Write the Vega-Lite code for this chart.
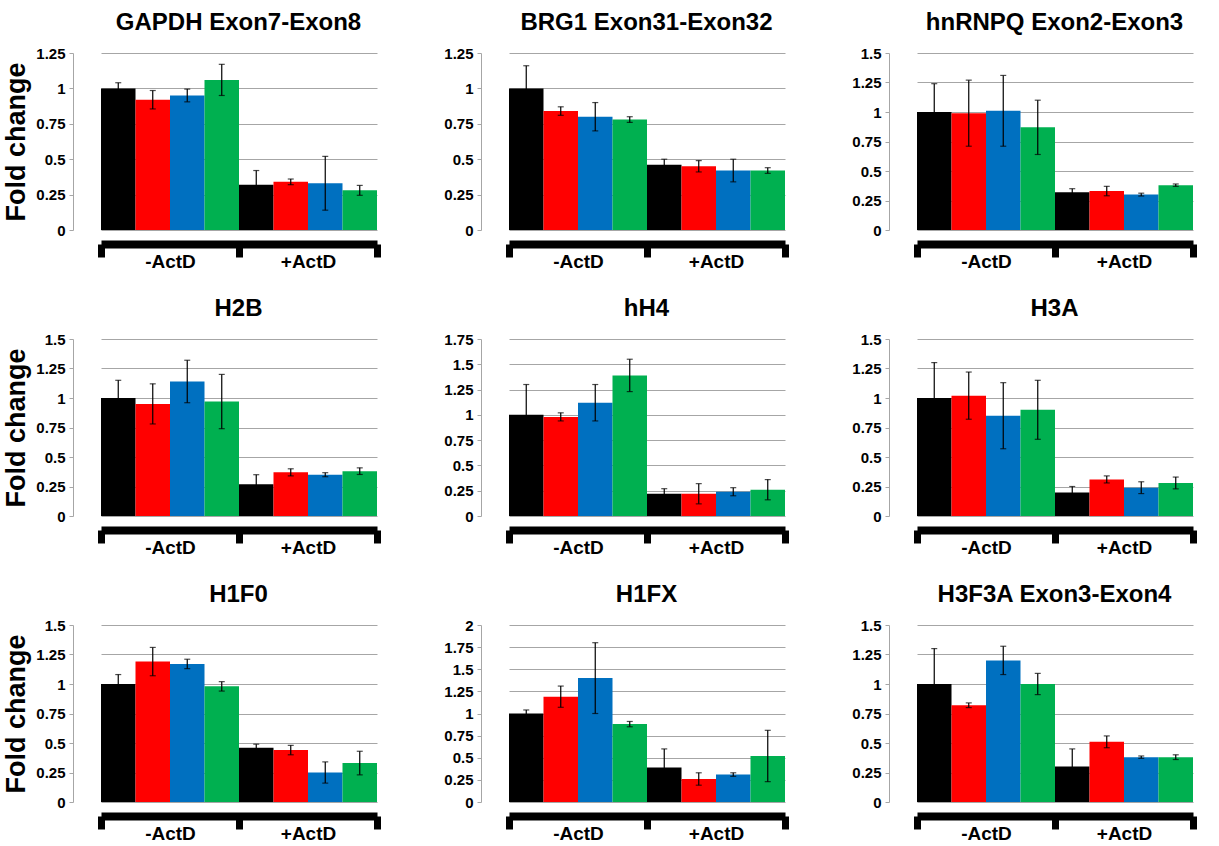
{
  "$schema": "https://vega.github.io/schema/vega-lite/v6.json",
  "padding": {"left": 2, "top": 11, "right": 0, "bottom": 0},
  "columns": 3,
  "spacing": {"row": 26, "column": 39},
  "data": {"values": [
    {"panel": "GAPDH Exon7-Exon8", "group": "-ActD", "series": "S1", "value": 1.00, "lo": 0.96, "hi": 1.04},
    {"panel": "GAPDH Exon7-Exon8", "group": "-ActD", "series": "S2", "value": 0.92, "lo": 0.855, "hi": 0.985},
    {"panel": "GAPDH Exon7-Exon8", "group": "-ActD", "series": "S3", "value": 0.95, "lo": 0.905, "hi": 0.995},
    {"panel": "GAPDH Exon7-Exon8", "group": "-ActD", "series": "S4", "value": 1.06, "lo": 0.95, "hi": 1.17},
    {"panel": "GAPDH Exon7-Exon8", "group": "+ActD", "series": "S1", "value": 0.32, "lo": 0.22, "hi": 0.42},
    {"panel": "GAPDH Exon7-Exon8", "group": "+ActD", "series": "S2", "value": 0.34, "lo": 0.32, "hi": 0.36},
    {"panel": "GAPDH Exon7-Exon8", "group": "+ActD", "series": "S3", "value": 0.33, "lo": 0.14, "hi": 0.52},
    {"panel": "GAPDH Exon7-Exon8", "group": "+ActD", "series": "S4", "value": 0.28, "lo": 0.245, "hi": 0.315},
    {"panel": "BRG1 Exon31-Exon32", "group": "-ActD", "series": "S1", "value": 1.00, "lo": 0.84, "hi": 1.16},
    {"panel": "BRG1 Exon31-Exon32", "group": "-ActD", "series": "S2", "value": 0.84, "lo": 0.81, "hi": 0.87},
    {"panel": "BRG1 Exon31-Exon32", "group": "-ActD", "series": "S3", "value": 0.80, "lo": 0.70, "hi": 0.90},
    {"panel": "BRG1 Exon31-Exon32", "group": "-ActD", "series": "S4", "value": 0.78, "lo": 0.76, "hi": 0.80},
    {"panel": "BRG1 Exon31-Exon32", "group": "+ActD", "series": "S1", "value": 0.46, "lo": 0.42, "hi": 0.50},
    {"panel": "BRG1 Exon31-Exon32", "group": "+ActD", "series": "S2", "value": 0.45, "lo": 0.41, "hi": 0.49},
    {"panel": "BRG1 Exon31-Exon32", "group": "+ActD", "series": "S3", "value": 0.42, "lo": 0.34, "hi": 0.50},
    {"panel": "BRG1 Exon31-Exon32", "group": "+ActD", "series": "S4", "value": 0.42, "lo": 0.40, "hi": 0.44},
    {"panel": "hnRNPQ Exon2-Exon3", "group": "-ActD", "series": "S1", "value": 1.00, "lo": 0.76, "hi": 1.24},
    {"panel": "hnRNPQ Exon2-Exon3", "group": "-ActD", "series": "S2", "value": 0.99, "lo": 0.71, "hi": 1.27},
    {"panel": "hnRNPQ Exon2-Exon3", "group": "-ActD", "series": "S3", "value": 1.01, "lo": 0.71, "hi": 1.31},
    {"panel": "hnRNPQ Exon2-Exon3", "group": "-ActD", "series": "S4", "value": 0.87, "lo": 0.64, "hi": 1.10},
    {"panel": "hnRNPQ Exon2-Exon3", "group": "+ActD", "series": "S1", "value": 0.32, "lo": 0.29, "hi": 0.35},
    {"panel": "hnRNPQ Exon2-Exon3", "group": "+ActD", "series": "S2", "value": 0.33, "lo": 0.29, "hi": 0.37},
    {"panel": "hnRNPQ Exon2-Exon3", "group": "+ActD", "series": "S3", "value": 0.30, "lo": 0.288, "hi": 0.312},
    {"panel": "hnRNPQ Exon2-Exon3", "group": "+ActD", "series": "S4", "value": 0.38, "lo": 0.37, "hi": 0.39},
    {"panel": "H2B", "group": "-ActD", "series": "S1", "value": 1.00, "lo": 0.85, "hi": 1.15},
    {"panel": "H2B", "group": "-ActD", "series": "S2", "value": 0.95, "lo": 0.78, "hi": 1.12},
    {"panel": "H2B", "group": "-ActD", "series": "S3", "value": 1.14, "lo": 0.96, "hi": 1.32},
    {"panel": "H2B", "group": "-ActD", "series": "S4", "value": 0.97, "lo": 0.74, "hi": 1.20},
    {"panel": "H2B", "group": "+ActD", "series": "S1", "value": 0.27, "lo": 0.19, "hi": 0.35},
    {"panel": "H2B", "group": "+ActD", "series": "S2", "value": 0.37, "lo": 0.34, "hi": 0.40},
    {"panel": "H2B", "group": "+ActD", "series": "S3", "value": 0.35, "lo": 0.333, "hi": 0.367},
    {"panel": "H2B", "group": "+ActD", "series": "S4", "value": 0.38, "lo": 0.352, "hi": 0.408},
    {"panel": "hH4", "group": "-ActD", "series": "S1", "value": 1.00, "lo": 0.70, "hi": 1.30},
    {"panel": "hH4", "group": "-ActD", "series": "S2", "value": 0.98, "lo": 0.94, "hi": 1.02},
    {"panel": "hH4", "group": "-ActD", "series": "S3", "value": 1.12, "lo": 0.94, "hi": 1.30},
    {"panel": "hH4", "group": "-ActD", "series": "S4", "value": 1.39, "lo": 1.23, "hi": 1.55},
    {"panel": "hH4", "group": "+ActD", "series": "S1", "value": 0.22, "lo": 0.17, "hi": 0.27},
    {"panel": "hH4", "group": "+ActD", "series": "S2", "value": 0.22, "lo": 0.12, "hi": 0.32},
    {"panel": "hH4", "group": "+ActD", "series": "S3", "value": 0.24, "lo": 0.20, "hi": 0.28},
    {"panel": "hH4", "group": "+ActD", "series": "S4", "value": 0.26, "lo": 0.16, "hi": 0.36},
    {"panel": "H3A", "group": "-ActD", "series": "S1", "value": 1.00, "lo": 0.70, "hi": 1.30},
    {"panel": "H3A", "group": "-ActD", "series": "S2", "value": 1.02, "lo": 0.82, "hi": 1.22},
    {"panel": "H3A", "group": "-ActD", "series": "S3", "value": 0.85, "lo": 0.57, "hi": 1.13},
    {"panel": "H3A", "group": "-ActD", "series": "S4", "value": 0.90, "lo": 0.65, "hi": 1.15},
    {"panel": "H3A", "group": "+ActD", "series": "S1", "value": 0.20, "lo": 0.15, "hi": 0.25},
    {"panel": "H3A", "group": "+ActD", "series": "S2", "value": 0.31, "lo": 0.28, "hi": 0.34},
    {"panel": "H3A", "group": "+ActD", "series": "S3", "value": 0.24, "lo": 0.19, "hi": 0.29},
    {"panel": "H3A", "group": "+ActD", "series": "S4", "value": 0.28, "lo": 0.23, "hi": 0.33},
    {"panel": "H1F0", "group": "-ActD", "series": "S1", "value": 1.00, "lo": 0.92, "hi": 1.08},
    {"panel": "H1F0", "group": "-ActD", "series": "S2", "value": 1.19, "lo": 1.07, "hi": 1.31},
    {"panel": "H1F0", "group": "-ActD", "series": "S3", "value": 1.17, "lo": 1.13, "hi": 1.21},
    {"panel": "H1F0", "group": "-ActD", "series": "S4", "value": 0.98, "lo": 0.94, "hi": 1.02},
    {"panel": "H1F0", "group": "+ActD", "series": "S1", "value": 0.46, "lo": 0.43, "hi": 0.49},
    {"panel": "H1F0", "group": "+ActD", "series": "S2", "value": 0.44, "lo": 0.40, "hi": 0.48},
    {"panel": "H1F0", "group": "+ActD", "series": "S3", "value": 0.25, "lo": 0.16, "hi": 0.34},
    {"panel": "H1F0", "group": "+ActD", "series": "S4", "value": 0.33, "lo": 0.23, "hi": 0.43},
    {"panel": "H1FX", "group": "-ActD", "series": "S1", "value": 1.00, "lo": 0.96, "hi": 1.04},
    {"panel": "H1FX", "group": "-ActD", "series": "S2", "value": 1.19, "lo": 1.07, "hi": 1.31},
    {"panel": "H1FX", "group": "-ActD", "series": "S3", "value": 1.40, "lo": 1.00, "hi": 1.80},
    {"panel": "H1FX", "group": "-ActD", "series": "S4", "value": 0.88, "lo": 0.85, "hi": 0.91},
    {"panel": "H1FX", "group": "+ActD", "series": "S1", "value": 0.39, "lo": 0.18, "hi": 0.60},
    {"panel": "H1FX", "group": "+ActD", "series": "S2", "value": 0.26, "lo": 0.19, "hi": 0.33},
    {"panel": "H1FX", "group": "+ActD", "series": "S3", "value": 0.31, "lo": 0.29, "hi": 0.33},
    {"panel": "H1FX", "group": "+ActD", "series": "S4", "value": 0.52, "lo": 0.23, "hi": 0.81},
    {"panel": "H3F3A Exon3-Exon4", "group": "-ActD", "series": "S1", "value": 1.00, "lo": 0.70, "hi": 1.30},
    {"panel": "H3F3A Exon3-Exon4", "group": "-ActD", "series": "S2", "value": 0.82, "lo": 0.80, "hi": 0.84},
    {"panel": "H3F3A Exon3-Exon4", "group": "-ActD", "series": "S3", "value": 1.20, "lo": 1.08, "hi": 1.32},
    {"panel": "H3F3A Exon3-Exon4", "group": "-ActD", "series": "S4", "value": 1.00, "lo": 0.91, "hi": 1.09},
    {"panel": "H3F3A Exon3-Exon4", "group": "+ActD", "series": "S1", "value": 0.30, "lo": 0.15, "hi": 0.45},
    {"panel": "H3F3A Exon3-Exon4", "group": "+ActD", "series": "S2", "value": 0.51, "lo": 0.46, "hi": 0.56},
    {"panel": "H3F3A Exon3-Exon4", "group": "+ActD", "series": "S3", "value": 0.38, "lo": 0.37, "hi": 0.39},
    {"panel": "H3F3A Exon3-Exon4", "group": "+ActD", "series": "S4", "value": 0.38, "lo": 0.36, "hi": 0.40}
  ]},
  "concat": [
    {
      "title": "GAPDH Exon7-Exon8", "width": 331, "height": 177,
      "transform": [{"filter": "datum.panel === 'GAPDH Exon7-Exon8'"}],
      "encoding": {
        "x": {"field": "group", "type": "nominal", "sort": ["-ActD", "+ActD"], "title": null, "scale": {"range": [28, 304], "paddingInner": 0, "paddingOuter": 0}, "axis": {"tickBand": "extent", "offset": 14}},
        "xOffset": {"field": "series", "type": "nominal", "scale": {"paddingInner": 0, "paddingOuter": 0}}
      },
      "layer": [
        {"mark": "bar", "encoding": {"y": {"field": "value", "type": "quantitative", "title": "Fold change", "scale": {"domain": [0, 1.25], "nice": false}, "axis": {"values": [0, 0.25, 0.5, 0.75, 1, 1.25], "format": ".2~f"}}, "color": {"field": "series", "type": "nominal", "scale": {"domain": ["S1", "S2", "S3", "S4"], "range": ["#000000", "#ff0000", "#0070c0", "#00b050"]}, "legend": null}}},
        {"mark": {"type": "rule", "color": "#000000", "strokeWidth": 1.2}, "encoding": {"y": {"field": "lo", "type": "quantitative", "title": "Fold change", "scale": {"domain": [0, 1.25], "nice": false}, "axis": {"values": [0, 0.25, 0.5, 0.75, 1, 1.25], "format": ".2~f"}}, "y2": {"field": "hi"}}},
        {"mark": {"type": "tick", "color": "#000000", "size": 6, "thickness": 1.2}, "encoding": {"y": {"field": "hi", "type": "quantitative", "title": "Fold change", "scale": {"domain": [0, 1.25], "nice": false}, "axis": {"values": [0, 0.25, 0.5, 0.75, 1, 1.25], "format": ".2~f"}}}},
        {"mark": {"type": "tick", "color": "#000000", "size": 6, "thickness": 1.2}, "encoding": {"y": {"field": "lo", "type": "quantitative", "title": "Fold change", "scale": {"domain": [0, 1.25], "nice": false}, "axis": {"values": [0, 0.25, 0.5, 0.75, 1, 1.25], "format": ".2~f"}}}}
      ]
    },
    {
      "title": "BRG1 Exon31-Exon32", "width": 331, "height": 177,
      "transform": [{"filter": "datum.panel === 'BRG1 Exon31-Exon32'"}],
      "encoding": {
        "x": {"field": "group", "type": "nominal", "sort": ["-ActD", "+ActD"], "title": null, "scale": {"range": [28, 304], "paddingInner": 0, "paddingOuter": 0}, "axis": {"tickBand": "extent", "offset": 14}},
        "xOffset": {"field": "series", "type": "nominal", "scale": {"paddingInner": 0, "paddingOuter": 0}}
      },
      "layer": [
        {"mark": "bar", "encoding": {"y": {"field": "value", "type": "quantitative", "title": null, "scale": {"domain": [0, 1.25], "nice": false}, "axis": {"values": [0, 0.25, 0.5, 0.75, 1, 1.25], "format": ".2~f"}}, "color": {"field": "series", "type": "nominal", "scale": {"domain": ["S1", "S2", "S3", "S4"], "range": ["#000000", "#ff0000", "#0070c0", "#00b050"]}, "legend": null}}},
        {"mark": {"type": "rule", "color": "#000000", "strokeWidth": 1.2}, "encoding": {"y": {"field": "lo", "type": "quantitative", "title": null, "scale": {"domain": [0, 1.25], "nice": false}, "axis": {"values": [0, 0.25, 0.5, 0.75, 1, 1.25], "format": ".2~f"}}, "y2": {"field": "hi"}}},
        {"mark": {"type": "tick", "color": "#000000", "size": 6, "thickness": 1.2}, "encoding": {"y": {"field": "hi", "type": "quantitative", "title": null, "scale": {"domain": [0, 1.25], "nice": false}, "axis": {"values": [0, 0.25, 0.5, 0.75, 1, 1.25], "format": ".2~f"}}}},
        {"mark": {"type": "tick", "color": "#000000", "size": 6, "thickness": 1.2}, "encoding": {"y": {"field": "lo", "type": "quantitative", "title": null, "scale": {"domain": [0, 1.25], "nice": false}, "axis": {"values": [0, 0.25, 0.5, 0.75, 1, 1.25], "format": ".2~f"}}}}
      ]
    },
    {
      "title": "hnRNPQ Exon2-Exon3", "width": 331, "height": 177,
      "transform": [{"filter": "datum.panel === 'hnRNPQ Exon2-Exon3'"}],
      "encoding": {
        "x": {"field": "group", "type": "nominal", "sort": ["-ActD", "+ActD"], "title": null, "scale": {"range": [28, 304], "paddingInner": 0, "paddingOuter": 0}, "axis": {"tickBand": "extent", "offset": 14}},
        "xOffset": {"field": "series", "type": "nominal", "scale": {"paddingInner": 0, "paddingOuter": 0}}
      },
      "layer": [
        {"mark": "bar", "encoding": {"y": {"field": "value", "type": "quantitative", "title": null, "scale": {"domain": [0, 1.5], "nice": false}, "axis": {"values": [0, 0.25, 0.5, 0.75, 1, 1.25, 1.5], "format": ".2~f"}}, "color": {"field": "series", "type": "nominal", "scale": {"domain": ["S1", "S2", "S3", "S4"], "range": ["#000000", "#ff0000", "#0070c0", "#00b050"]}, "legend": null}}},
        {"mark": {"type": "rule", "color": "#000000", "strokeWidth": 1.2}, "encoding": {"y": {"field": "lo", "type": "quantitative", "title": null, "scale": {"domain": [0, 1.5], "nice": false}, "axis": {"values": [0, 0.25, 0.5, 0.75, 1, 1.25, 1.5], "format": ".2~f"}}, "y2": {"field": "hi"}}},
        {"mark": {"type": "tick", "color": "#000000", "size": 6, "thickness": 1.2}, "encoding": {"y": {"field": "hi", "type": "quantitative", "title": null, "scale": {"domain": [0, 1.5], "nice": false}, "axis": {"values": [0, 0.25, 0.5, 0.75, 1, 1.25, 1.5], "format": ".2~f"}}}},
        {"mark": {"type": "tick", "color": "#000000", "size": 6, "thickness": 1.2}, "encoding": {"y": {"field": "lo", "type": "quantitative", "title": null, "scale": {"domain": [0, 1.5], "nice": false}, "axis": {"values": [0, 0.25, 0.5, 0.75, 1, 1.25, 1.5], "format": ".2~f"}}}}
      ]
    },
    {
      "title": "H2B", "width": 331, "height": 177,
      "transform": [{"filter": "datum.panel === 'H2B'"}],
      "encoding": {
        "x": {"field": "group", "type": "nominal", "sort": ["-ActD", "+ActD"], "title": null, "scale": {"range": [28, 304], "paddingInner": 0, "paddingOuter": 0}, "axis": {"tickBand": "extent", "offset": 14}},
        "xOffset": {"field": "series", "type": "nominal", "scale": {"paddingInner": 0, "paddingOuter": 0}}
      },
      "layer": [
        {"mark": "bar", "encoding": {"y": {"field": "value", "type": "quantitative", "title": "Fold change", "scale": {"domain": [0, 1.5], "nice": false}, "axis": {"values": [0, 0.25, 0.5, 0.75, 1, 1.25, 1.5], "format": ".2~f"}}, "color": {"field": "series", "type": "nominal", "scale": {"domain": ["S1", "S2", "S3", "S4"], "range": ["#000000", "#ff0000", "#0070c0", "#00b050"]}, "legend": null}}},
        {"mark": {"type": "rule", "color": "#000000", "strokeWidth": 1.2}, "encoding": {"y": {"field": "lo", "type": "quantitative", "title": "Fold change", "scale": {"domain": [0, 1.5], "nice": false}, "axis": {"values": [0, 0.25, 0.5, 0.75, 1, 1.25, 1.5], "format": ".2~f"}}, "y2": {"field": "hi"}}},
        {"mark": {"type": "tick", "color": "#000000", "size": 6, "thickness": 1.2}, "encoding": {"y": {"field": "hi", "type": "quantitative", "title": "Fold change", "scale": {"domain": [0, 1.5], "nice": false}, "axis": {"values": [0, 0.25, 0.5, 0.75, 1, 1.25, 1.5], "format": ".2~f"}}}},
        {"mark": {"type": "tick", "color": "#000000", "size": 6, "thickness": 1.2}, "encoding": {"y": {"field": "lo", "type": "quantitative", "title": "Fold change", "scale": {"domain": [0, 1.5], "nice": false}, "axis": {"values": [0, 0.25, 0.5, 0.75, 1, 1.25, 1.5], "format": ".2~f"}}}}
      ]
    },
    {
      "title": "hH4", "width": 331, "height": 177,
      "transform": [{"filter": "datum.panel === 'hH4'"}],
      "encoding": {
        "x": {"field": "group", "type": "nominal", "sort": ["-ActD", "+ActD"], "title": null, "scale": {"range": [28, 304], "paddingInner": 0, "paddingOuter": 0}, "axis": {"tickBand": "extent", "offset": 14}},
        "xOffset": {"field": "series", "type": "nominal", "scale": {"paddingInner": 0, "paddingOuter": 0}}
      },
      "layer": [
        {"mark": "bar", "encoding": {"y": {"field": "value", "type": "quantitative", "title": null, "scale": {"domain": [0, 1.75], "nice": false}, "axis": {"values": [0, 0.25, 0.5, 0.75, 1, 1.25, 1.5, 1.75], "format": ".2~f"}}, "color": {"field": "series", "type": "nominal", "scale": {"domain": ["S1", "S2", "S3", "S4"], "range": ["#000000", "#ff0000", "#0070c0", "#00b050"]}, "legend": null}}},
        {"mark": {"type": "rule", "color": "#000000", "strokeWidth": 1.2}, "encoding": {"y": {"field": "lo", "type": "quantitative", "title": null, "scale": {"domain": [0, 1.75], "nice": false}, "axis": {"values": [0, 0.25, 0.5, 0.75, 1, 1.25, 1.5, 1.75], "format": ".2~f"}}, "y2": {"field": "hi"}}},
        {"mark": {"type": "tick", "color": "#000000", "size": 6, "thickness": 1.2}, "encoding": {"y": {"field": "hi", "type": "quantitative", "title": null, "scale": {"domain": [0, 1.75], "nice": false}, "axis": {"values": [0, 0.25, 0.5, 0.75, 1, 1.25, 1.5, 1.75], "format": ".2~f"}}}},
        {"mark": {"type": "tick", "color": "#000000", "size": 6, "thickness": 1.2}, "encoding": {"y": {"field": "lo", "type": "quantitative", "title": null, "scale": {"domain": [0, 1.75], "nice": false}, "axis": {"values": [0, 0.25, 0.5, 0.75, 1, 1.25, 1.5, 1.75], "format": ".2~f"}}}}
      ]
    },
    {
      "title": "H3A", "width": 331, "height": 177,
      "transform": [{"filter": "datum.panel === 'H3A'"}],
      "encoding": {
        "x": {"field": "group", "type": "nominal", "sort": ["-ActD", "+ActD"], "title": null, "scale": {"range": [28, 304], "paddingInner": 0, "paddingOuter": 0}, "axis": {"tickBand": "extent", "offset": 14}},
        "xOffset": {"field": "series", "type": "nominal", "scale": {"paddingInner": 0, "paddingOuter": 0}}
      },
      "layer": [
        {"mark": "bar", "encoding": {"y": {"field": "value", "type": "quantitative", "title": null, "scale": {"domain": [0, 1.5], "nice": false}, "axis": {"values": [0, 0.25, 0.5, 0.75, 1, 1.25, 1.5], "format": ".2~f"}}, "color": {"field": "series", "type": "nominal", "scale": {"domain": ["S1", "S2", "S3", "S4"], "range": ["#000000", "#ff0000", "#0070c0", "#00b050"]}, "legend": null}}},
        {"mark": {"type": "rule", "color": "#000000", "strokeWidth": 1.2}, "encoding": {"y": {"field": "lo", "type": "quantitative", "title": null, "scale": {"domain": [0, 1.5], "nice": false}, "axis": {"values": [0, 0.25, 0.5, 0.75, 1, 1.25, 1.5], "format": ".2~f"}}, "y2": {"field": "hi"}}},
        {"mark": {"type": "tick", "color": "#000000", "size": 6, "thickness": 1.2}, "encoding": {"y": {"field": "hi", "type": "quantitative", "title": null, "scale": {"domain": [0, 1.5], "nice": false}, "axis": {"values": [0, 0.25, 0.5, 0.75, 1, 1.25, 1.5], "format": ".2~f"}}}},
        {"mark": {"type": "tick", "color": "#000000", "size": 6, "thickness": 1.2}, "encoding": {"y": {"field": "lo", "type": "quantitative", "title": null, "scale": {"domain": [0, 1.5], "nice": false}, "axis": {"values": [0, 0.25, 0.5, 0.75, 1, 1.25, 1.5], "format": ".2~f"}}}}
      ]
    },
    {
      "title": "H1F0", "width": 331, "height": 177,
      "transform": [{"filter": "datum.panel === 'H1F0'"}],
      "encoding": {
        "x": {"field": "group", "type": "nominal", "sort": ["-ActD", "+ActD"], "title": null, "scale": {"range": [28, 304], "paddingInner": 0, "paddingOuter": 0}, "axis": {"tickBand": "extent", "offset": 14}},
        "xOffset": {"field": "series", "type": "nominal", "scale": {"paddingInner": 0, "paddingOuter": 0}}
      },
      "layer": [
        {"mark": "bar", "encoding": {"y": {"field": "value", "type": "quantitative", "title": "Fold change", "scale": {"domain": [0, 1.5], "nice": false}, "axis": {"values": [0, 0.25, 0.5, 0.75, 1, 1.25, 1.5], "format": ".2~f"}}, "color": {"field": "series", "type": "nominal", "scale": {"domain": ["S1", "S2", "S3", "S4"], "range": ["#000000", "#ff0000", "#0070c0", "#00b050"]}, "legend": null}}},
        {"mark": {"type": "rule", "color": "#000000", "strokeWidth": 1.2}, "encoding": {"y": {"field": "lo", "type": "quantitative", "title": "Fold change", "scale": {"domain": [0, 1.5], "nice": false}, "axis": {"values": [0, 0.25, 0.5, 0.75, 1, 1.25, 1.5], "format": ".2~f"}}, "y2": {"field": "hi"}}},
        {"mark": {"type": "tick", "color": "#000000", "size": 6, "thickness": 1.2}, "encoding": {"y": {"field": "hi", "type": "quantitative", "title": "Fold change", "scale": {"domain": [0, 1.5], "nice": false}, "axis": {"values": [0, 0.25, 0.5, 0.75, 1, 1.25, 1.5], "format": ".2~f"}}}},
        {"mark": {"type": "tick", "color": "#000000", "size": 6, "thickness": 1.2}, "encoding": {"y": {"field": "lo", "type": "quantitative", "title": "Fold change", "scale": {"domain": [0, 1.5], "nice": false}, "axis": {"values": [0, 0.25, 0.5, 0.75, 1, 1.25, 1.5], "format": ".2~f"}}}}
      ]
    },
    {
      "title": "H1FX", "width": 331, "height": 177,
      "transform": [{"filter": "datum.panel === 'H1FX'"}],
      "encoding": {
        "x": {"field": "group", "type": "nominal", "sort": ["-ActD", "+ActD"], "title": null, "scale": {"range": [28, 304], "paddingInner": 0, "paddingOuter": 0}, "axis": {"tickBand": "extent", "offset": 14}},
        "xOffset": {"field": "series", "type": "nominal", "scale": {"paddingInner": 0, "paddingOuter": 0}}
      },
      "layer": [
        {"mark": "bar", "encoding": {"y": {"field": "value", "type": "quantitative", "title": null, "scale": {"domain": [0, 2], "nice": false}, "axis": {"values": [0, 0.25, 0.5, 0.75, 1, 1.25, 1.5, 1.75, 2], "format": ".2~f"}}, "color": {"field": "series", "type": "nominal", "scale": {"domain": ["S1", "S2", "S3", "S4"], "range": ["#000000", "#ff0000", "#0070c0", "#00b050"]}, "legend": null}}},
        {"mark": {"type": "rule", "color": "#000000", "strokeWidth": 1.2}, "encoding": {"y": {"field": "lo", "type": "quantitative", "title": null, "scale": {"domain": [0, 2], "nice": false}, "axis": {"values": [0, 0.25, 0.5, 0.75, 1, 1.25, 1.5, 1.75, 2], "format": ".2~f"}}, "y2": {"field": "hi"}}},
        {"mark": {"type": "tick", "color": "#000000", "size": 6, "thickness": 1.2}, "encoding": {"y": {"field": "hi", "type": "quantitative", "title": null, "scale": {"domain": [0, 2], "nice": false}, "axis": {"values": [0, 0.25, 0.5, 0.75, 1, 1.25, 1.5, 1.75, 2], "format": ".2~f"}}}},
        {"mark": {"type": "tick", "color": "#000000", "size": 6, "thickness": 1.2}, "encoding": {"y": {"field": "lo", "type": "quantitative", "title": null, "scale": {"domain": [0, 2], "nice": false}, "axis": {"values": [0, 0.25, 0.5, 0.75, 1, 1.25, 1.5, 1.75, 2], "format": ".2~f"}}}}
      ]
    },
    {
      "title": "H3F3A Exon3-Exon4", "width": 331, "height": 177,
      "transform": [{"filter": "datum.panel === 'H3F3A Exon3-Exon4'"}],
      "encoding": {
        "x": {"field": "group", "type": "nominal", "sort": ["-ActD", "+ActD"], "title": null, "scale": {"range": [28, 304], "paddingInner": 0, "paddingOuter": 0}, "axis": {"tickBand": "extent", "offset": 14}},
        "xOffset": {"field": "series", "type": "nominal", "scale": {"paddingInner": 0, "paddingOuter": 0}}
      },
      "layer": [
        {"mark": "bar", "encoding": {"y": {"field": "value", "type": "quantitative", "title": null, "scale": {"domain": [0, 1.5], "nice": false}, "axis": {"values": [0, 0.25, 0.5, 0.75, 1, 1.25, 1.5], "format": ".2~f"}}, "color": {"field": "series", "type": "nominal", "scale": {"domain": ["S1", "S2", "S3", "S4"], "range": ["#000000", "#ff0000", "#0070c0", "#00b050"]}, "legend": null}}},
        {"mark": {"type": "rule", "color": "#000000", "strokeWidth": 1.2}, "encoding": {"y": {"field": "lo", "type": "quantitative", "title": null, "scale": {"domain": [0, 1.5], "nice": false}, "axis": {"values": [0, 0.25, 0.5, 0.75, 1, 1.25, 1.5], "format": ".2~f"}}, "y2": {"field": "hi"}}},
        {"mark": {"type": "tick", "color": "#000000", "size": 6, "thickness": 1.2}, "encoding": {"y": {"field": "hi", "type": "quantitative", "title": null, "scale": {"domain": [0, 1.5], "nice": false}, "axis": {"values": [0, 0.25, 0.5, 0.75, 1, 1.25, 1.5], "format": ".2~f"}}}},
        {"mark": {"type": "tick", "color": "#000000", "size": 6, "thickness": 1.2}, "encoding": {"y": {"field": "lo", "type": "quantitative", "title": null, "scale": {"domain": [0, 1.5], "nice": false}, "axis": {"values": [0, 0.25, 0.5, 0.75, 1, 1.25, 1.5], "format": ".2~f"}}}}
      ]
    }
  ],
  "config": {
    "font": "Liberation Sans",
    "view": {"stroke": null},
    "title": {"fontSize": 24, "fontWeight": "bold", "color": "#000000", "anchor": "middle", "frame": "group", "baseline": "alphabetic", "offset": 11},
    "axisY": {"grid": true, "gridColor": "#a6a6a6", "gridWidth": 1, "domain": true, "domainColor": "#a6a6a6", "domainWidth": 1, "ticks": true, "tickColor": "#a6a6a6", "tickSize": 4, "labelFontSize": 15, "labelFontWeight": "bold", "labelColor": "#000000", "labelPadding": 4, "titleFontSize": 27, "titleFontWeight": "bold", "titleColor": "#000000", "titlePadding": 5},
    "axisX": {"grid": false, "domainColor": "#000000", "domainWidth": 8, "tickColor": "#000000", "tickWidth": 7, "tickSize": 13, "tickBand": "extent", "offset": 14, "labelFontSize": 19, "labelFontWeight": "bold", "labelColor": "#000000", "labelPadding": -5, "labelAngle": 0}
  }
}
